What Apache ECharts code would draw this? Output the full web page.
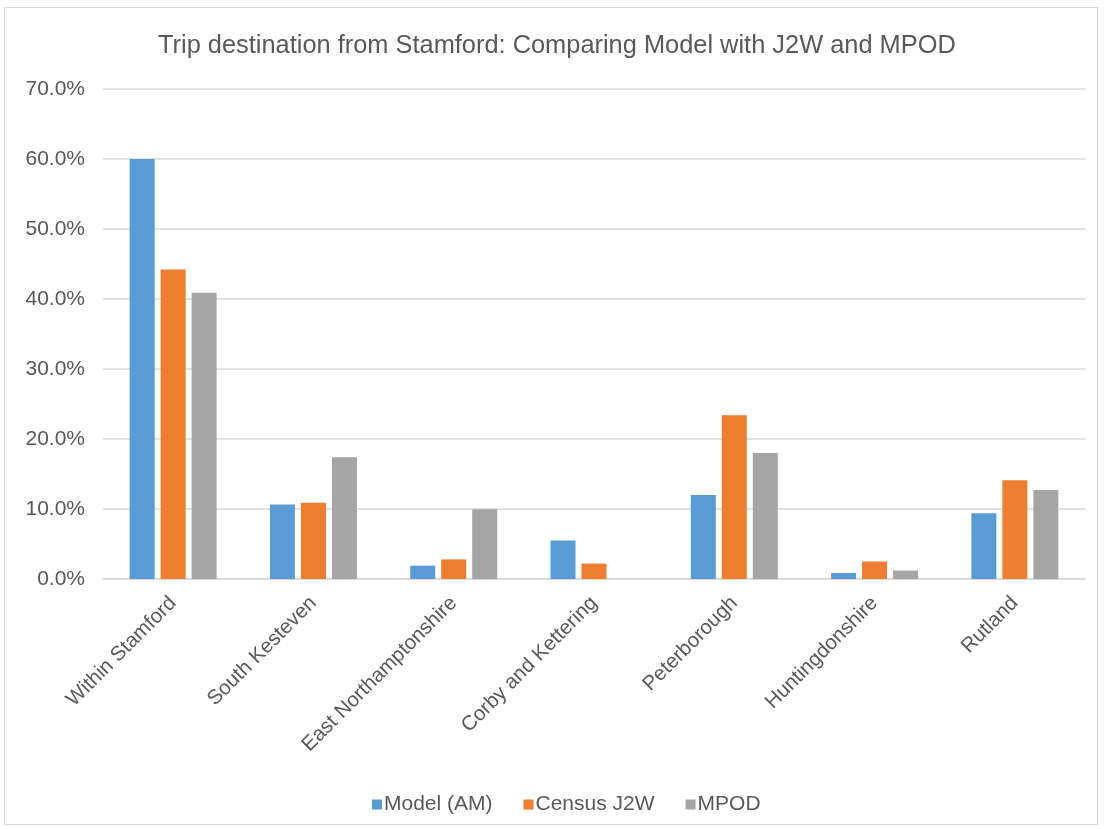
<!DOCTYPE html>
<html>
<head>
<meta charset="utf-8">
<script src="https://cdn.jsdelivr.net/npm/echarts@6/dist/echarts.min.js"></script>
<style>
  html, body { margin: 0; padding: 0; background: #fff; }
  #frame { position: absolute; left: 4px; top: 7px; width: 1094px; height: 818px; border: 1px solid #d9d9d9; box-sizing: border-box; }
  #chart { position: absolute; left: 0; top: 0; width: 1104px; height: 829px; }
</style>
</head>
<body>
<div id="frame"></div>
<div id="chart"></div>
<script>
const categories = ['Within Stamford', 'South Kesteven', 'East Northamptonshire', 'Corby and Kettering', 'Peterborough', 'Huntingdonshire', 'Rutland'];
const modelAM = [60.0, 10.65, 1.9, 5.5, 12.0, 0.86, 9.4];
const censusJ2W = [44.2, 10.9, 2.8, 2.2, 23.4, 2.5, 14.1];
const mpod = [40.9, 17.4, 9.95, 0, 18.0, 1.2, 12.7];
const seriesNames = ['Model (AM)', 'Census J2W', 'MPOD'];
const colors = ['#5B9BD5', '#ED7D31', '#A5A5A5'];

const font = 'Liberation Sans, Arial, sans-serif';
const textColor = '#595959';

const chart = echarts.init(document.getElementById('chart'), null, { renderer: 'canvas' });

const mkSeries = (name, data, color) => ({
  name, type: 'bar', data, barWidth: 25, barGap: '24%',
  itemStyle: { color }, animation: false
});

chart.setOption({
  backgroundColor: 'transparent',
  animation: false,
  color: colors,
  title: {
    text: 'Trip destination from Stamford: Comparing Model with J2W and MPOD',
    left: 153, top: 28,
    textStyle: { fontFamily: font, fontSize: 25.4, fontWeight: 'normal', color: textColor }
  },
  legend: {
    data: seriesNames, top: 789, left: 367,
    itemWidth: 10, itemHeight: 10, itemGap: 31, icon: 'rect',
    textStyle: { fontFamily: font, fontSize: 21, color: textColor, padding: [0, 0, 0, -3] }
  },
  grid: { left: 103, right: 19, top: 89, bottom: 250, containLabel: false },
  xAxis: {
    type: 'category', data: categories,
    axisLine: { show: true, lineStyle: { color: '#d9d9d9', width: 1.5 } },
    axisTick: { show: false },
    axisLabel: { rotate: 45, interval: 0, fontFamily: font, fontSize: 20.5, color: textColor, margin: 21 }
  },
  yAxis: {
    type: 'value', min: 0, max: 70, interval: 10,
    axisLine: { show: false }, axisTick: { show: false },
    splitLine: { lineStyle: { color: '#d9d9d9', width: 1.5 } },
    axisLabel: { formatter: v => v.toFixed(1) + '%', fontFamily: font, fontSize: 21, color: textColor, margin: 18 }
  },
  series: [
    mkSeries(seriesNames[0], modelAM, colors[0]),
    mkSeries(seriesNames[1], censusJ2W, colors[1]),
    mkSeries(seriesNames[2], mpod, colors[2])
  ]
});
</script>
</body>
</html>
